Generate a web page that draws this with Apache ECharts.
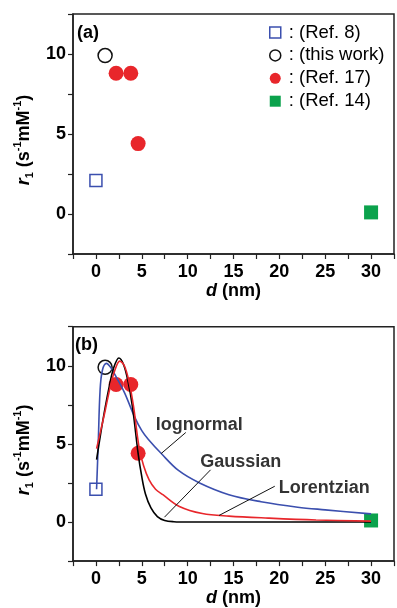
<!DOCTYPE html>
<html>
<head>
<meta charset="utf-8">
<script src="https://cdn.jsdelivr.net/npm/echarts@6/dist/echarts.min.js"></script>
<style>
html,body{margin:0;padding:0;background:#fff;}
#c{width:397px;height:608px;}
</style>
</head>
<body>
<div id="c"></div>
<script>
// ---- data ----
const seriesNames = ['(Ref. 8)', '(this work)', '(Ref. 17)', '(Ref. 14)'];
const ref8 = [[0, 2.1]];
const thisWork = [[1.0, 9.9]];
const ref17 = [[2.2, 8.8], [3.8, 8.8], [4.6, 4.4]];
const ref14 = [[30, 0.1]];

const lognormal = [[0.07,2.1],[0.25,5.0],[0.45,8.4],[0.7,9.7],[1.15,10.15],[1.6,9.9],[2.1,9.4],[3.1,8.3],[4.2,6.75],[5.0,5.85],[5.7,5.3],[7.1,4.4],[9.0,3.3],[11.3,2.5],[14.5,1.75],[18.0,1.3],[22.0,0.95],[25.0,0.78],[30.0,0.52]];
const gaussian = [[0.07,4.0],[0.5,5.6],[1.0,7.3],[1.5,8.8],[1.9,9.8],[2.5,10.5],[3.0,10.1],[3.5,9.0],[4.0,7.3],[4.6,4.4],[5.0,2.9],[5.4,1.8],[6.0,0.9],[6.7,0.35],[7.5,0.1],[8.5,0.02],[10,0],[30,0]];
const lorentzian = [[0.07,4.7],[0.5,5.8],[1.0,7.1],[1.5,8.5],[2.0,9.6],[2.6,10.3],[3.1,10.0],[3.6,9.0],[4.1,7.4],[4.7,4.8],[5.2,3.6],[5.8,2.7],[6.5,2.1],[7.3,1.75],[9.1,1.0],[11.6,0.55],[14.5,0.38],[18.8,0.25],[24,0.13],[30,0.06]];

const curveNames = ['lognormal', 'Gaussian', 'Lorentzian'];
const curveLabelPos = [[11.26, 6.23], [15.8, 3.86], [24.9, 2.17]];
const arrowStart = [[9.8, 5.73], [12.5, 3.34], [19.5, 2.29]];
const arrowEnd = [[7.11, 4.38], [7.47, 0.31], [13.42, 0.42]];

const xTicks = [0, 5, 10, 15, 20, 25, 30];
const yTicks = [0, 5, 10];

// ---- chart ----
const FONT = 'Liberation Sans, Arial, Helvetica, sans-serif';
const AX = '#222';
const TXT = '#000';
const BLUE = '#3b4fae', RED = '#e8262b', GREEN = '#0ba24c';

function xAxis(gi) {
  return {
    gridIndex: gi, type: 'value', min: -2.5, max: 32.5, interval: 2.5,
    axisLine: {show: true, onZero: false, lineStyle: {color: AX, width: 1.5}},
    axisTick: {show: true, length: 5, lineStyle: {color: AX, width: 1.2}},
    splitLine: {show: false},
    axisLabel: {
      margin: 9, color: TXT, fontFamily: FONT, fontSize: 18, fontWeight: 'bold',
      formatter: v => xTicks.includes(v) ? String(v) : ''
    },
    name: '{i|d} (nm)', nameLocation: 'middle', nameGap: 27,
    nameTextStyle: {color: TXT, fontFamily: FONT, fontSize: 18, fontWeight: 'bold',
      rich: {i: {fontStyle: 'italic', fontWeight: 'bold', fontSize: 18, fontFamily: FONT, color: TXT}}}
  };
}
function yAxis(gi) {
  return {
    gridIndex: gi, type: 'value', min: -2.5, max: 12.5, interval: 2.5,
    axisLine: {show: true, onZero: false, lineStyle: {color: AX, width: 1.5}},
    axisTick: {show: true, length: 5, lineStyle: {color: AX, width: 1.2}},
    splitLine: {show: false},
    axisLabel: {
      margin: 7, color: TXT, fontFamily: FONT, fontSize: 18, fontWeight: 'bold',
      formatter: v => yTicks.includes(v) ? String(v) : ''
    },
    name: '{i|r}{sub|1}{n| (s}{sup|-1}{n|mM}{sup|-1}{n|)}', nameLocation: 'middle', nameGap: 37,
    nameTextStyle: {color: TXT, fontFamily: FONT, fontSize: 18, fontWeight: 'bold', padding: [0, 12, 0, 0],
      rich: {
        i: {fontStyle: 'italic', fontWeight: 'bold', fontSize: 18, fontFamily: FONT, color: TXT, lineHeight: 23, verticalAlign: 'middle'},
        n: {fontWeight: 'bold', fontSize: 18, fontFamily: FONT, color: TXT, lineHeight: 23, verticalAlign: 'middle'},
        sub: {fontWeight: 'bold', fontSize: 11, fontFamily: FONT, color: TXT, lineHeight: 23, verticalAlign: 'bottom'},
        sup: {fontWeight: 'bold', fontSize: 11, fontFamily: FONT, color: TXT, lineHeight: 23, verticalAlign: 'top'}
      }}
  };
}

function points(gi) {
  return [
    {name: seriesNames[0], type: 'scatter', xAxisIndex: gi, yAxisIndex: gi, data: ref8, symbol: 'rect', symbolSize: 12,
      itemStyle: {color: '#fff', borderColor: BLUE, borderWidth: 1.5, opacity: 1}, z: 2},
    {name: seriesNames[1], type: 'scatter', xAxisIndex: gi, yAxisIndex: gi, data: thisWork, symbol: 'circle', symbolSize: 14,
      itemStyle: {color: '#fff', borderColor: '#111', borderWidth: 1.5, opacity: 1}, z: 2},
    {name: seriesNames[2], type: 'scatter', xAxisIndex: gi, yAxisIndex: gi, data: ref17, symbol: 'circle', symbolSize: 15,
      itemStyle: {color: RED, opacity: 1}, z: 2},
    {name: seriesNames[3], type: 'scatter', xAxisIndex: gi, yAxisIndex: gi, data: ref14, symbol: 'rect', symbolSize: 14,
      itemStyle: {color: GREEN, opacity: 1}, z: 2}
  ];
}

function curve(name, data, color, k) {
  return {
    name: name, type: 'line', xAxisIndex: 1, yAxisIndex: 1, data: data, showSymbol: false, symbol: 'none',
    smooth: 0.35, lineStyle: {color: color, width: 1.6}, itemStyle: {color: color}, z: 4,
    markLine: {
      silent: true, symbol: ['none', 'arrow'], symbolSize: [0, 8], animation: false,
      lineStyle: {color: '#111', width: 1, type: 'solid'}, label: {show: false},
      data: [[{coord: arrowStart[k]}, {coord: arrowEnd[k]}]]
    }
  };
}

const chart = echarts.init(document.getElementById('c'), null, {renderer: 'canvas'});
chart.setOption({
  animation: false,
  backgroundColor: '#fff',
  grid: [
    {left: 73, top: 14, width: 323, height: 240, show: true, borderColor: AX, borderWidth: 1.5, backgroundColor: 'transparent'},
    {left: 73, top: 326.7, width: 323, height: 240, show: true, borderColor: AX, borderWidth: 1.5, backgroundColor: 'transparent'}
  ],
  xAxis: [xAxis(0), xAxis(1)],
  yAxis: [yAxis(0), yAxis(1)],
  legend: {
    orient: 'vertical', left: 269, top: 23, padding: 0, itemWidth: 11, itemHeight: 11, itemGap: 3.9,
    selectedMode: false,
    textStyle: {fontFamily: FONT, fontSize: 18.5, color: TXT, lineHeight: 17, padding: [0, 0, 0, 3]},
    formatter: ': {name}',
    data: [
      {name: seriesNames[0], icon: 'rect', itemStyle: {color: '#fff', borderColor: BLUE, borderWidth: 1.5, opacity: 1}},
      {name: seriesNames[1], icon: 'circle', itemStyle: {color: '#fff', borderColor: '#111', borderWidth: 1.5, opacity: 1}},
      {name: seriesNames[2], icon: 'circle', itemStyle: {color: RED, borderWidth: 0, opacity: 1}},
      {name: seriesNames[3], icon: 'rect', itemStyle: {color: GREEN, borderWidth: 0, opacity: 1}}
    ]
  },
  graphic: [
    {type: 'text', left: 77, top: 24, style: {text: '(a)', font: 'bold 18px ' + FONT, fill: TXT}},
    {type: 'text', left: 75, top: 336, style: {text: '(b)', font: 'bold 18px ' + FONT, fill: TXT}}
  ],
  series: [
    ...points(0),
    ...points(1),
    curve(curveNames[0], lognormal, BLUE, 0),
    curve(curveNames[1], gaussian, '#000', 1),
    curve(curveNames[2], lorentzian, RED, 2),
    {
      name: 'labels', type: 'scatter', xAxisIndex: 1, yAxisIndex: 1, symbolSize: 0, silent: true, z: 5,
      data: curveLabelPos.map((p, i) => [p[0], p[1], curveNames[i]]),
      label: {show: true, position: 'inside', formatter: p => p.data[2], color: TXT,
        fontFamily: FONT, fontSize: 18, fontWeight: 'bold'}
    }
  ]
});
</script>
</body>
</html>
